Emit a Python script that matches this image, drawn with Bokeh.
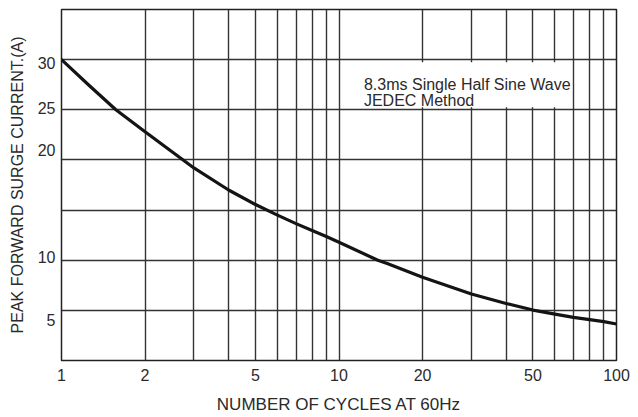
from bokeh.plotting import figure
from bokeh.models import FixedTicker, Range1d
from bokeh.core.properties import value
from bokeh.embed import file_html
from bokeh.resources import INLINE

# ---- data ----
cycles = [1, 1.25, 1.57, 2, 3, 4, 5, 6, 7, 8, 9, 10, 13.8, 15, 20, 30, 40, 50, 60, 70, 80, 90, 100]
current = [30.0, 27.5, 25.0, 22.8, 19.2, 17.0, 15.55, 14.5, 13.65, 12.96, 12.36, 11.79, 10.0,
           9.65, 8.3, 6.63, 5.69, 5.03, 4.63, 4.30, 4.07, 3.87, 3.64]

x_tick_values = [1, 2, 5, 10, 20, 50, 100]
x_tick_labels = ["1", "2", "5", "10", "20", "50", "100"]
x_grid_values = [2, 3, 4, 5, 6, 7, 8, 9, 10, 20, 30, 40, 50, 60, 70, 80, 90]

y_grid_values = [5, 10, 15, 20, 25, 30]
y_label_values = [4.06, 10.35, 21.0, 25.2, 29.7]
y_tick_labels = ["5", "10", "20", "25", "30"]

note_lines = ["8.3ms Single Half Sine Wave", "JEDEC Method"]
note_x = [12.3, 12.3]
note_y = [27.5, 25.95]
note_box_left = [10.5]
note_box_right = [66]
note_box_bottom = [25.25]
note_box_top = [29.75]

x_title = "NUMBER OF CYCLES AT 60Hz"
y_title = "PEAK FORWARD SURGE CURRENT.(A)"

FONT = "Liberation Sans"
TXT = "#2a2a2a"

p = figure(width=630, height=417, x_axis_type="log",
           x_range=Range1d(1, 100), y_range=Range1d(0, 35),
           output_backend="svg", toolbar_location=None,
           min_border_left=61, min_border_right=14, min_border_top=9, min_border_bottom=57)

p.background_fill_color = "white"
p.border_fill_color = "white"
p.outline_line_color = "#222222"
p.outline_line_width = 1.5

# grids
p.xgrid.ticker = FixedTicker(ticks=x_grid_values)
p.ygrid.ticker = FixedTicker(ticks=y_grid_values)
for g in (p.xgrid, p.ygrid):
    g.grid_line_color = "#333333"
    g.grid_line_width = 1.4
    g.grid_line_alpha = 1.0

# axes
p.xaxis.ticker = FixedTicker(ticks=x_tick_values)
p.xaxis.major_label_overrides = {v: s for v, s in zip(x_tick_values, x_tick_labels)}
p.yaxis.ticker = FixedTicker(ticks=y_label_values)
p.yaxis.major_label_overrides = {v: s for v, s in zip(y_label_values, y_tick_labels)}
p.xaxis.axis_label = x_title
p.yaxis.axis_label = y_title
for ax in (p.xaxis, p.yaxis):
    ax.axis_line_color = None
    ax.major_tick_out = 0
    ax.major_tick_in = 0
    ax.minor_tick_out = 0
    ax.minor_tick_in = 0
    ax.major_label_text_font = FONT
    ax.major_label_text_font_size = "16px"
    ax.major_label_text_color = TXT
    ax.axis_label_text_font = FONT
    ax.axis_label_text_font_style = "normal"
    ax.axis_label_text_color = TXT
p.xaxis.axis_label_text_font_size = "17px"
p.yaxis.axis_label_text_font_size = "16px"
p.xaxis.major_label_standoff = 8
p.xaxis.axis_label_standoff = 11
p.yaxis.major_label_standoff = 6
p.yaxis.axis_label_standoff = 9

# annotation box and text
p.quad(left=note_box_left, right=note_box_right, bottom=note_box_bottom, top=note_box_top,
       fill_color="white", line_color=None)
p.text(x=note_x, y=note_y, text=note_lines, text_font=value(FONT), text_font_size="16px",
       text_color=TXT, text_baseline="alphabetic", text_align="left")

# curve
p.line(cycles, current, line_color="#141414", line_width=3.2, line_join="round", line_cap="round")

open("out.html", "w").write(file_html(p, INLINE))
